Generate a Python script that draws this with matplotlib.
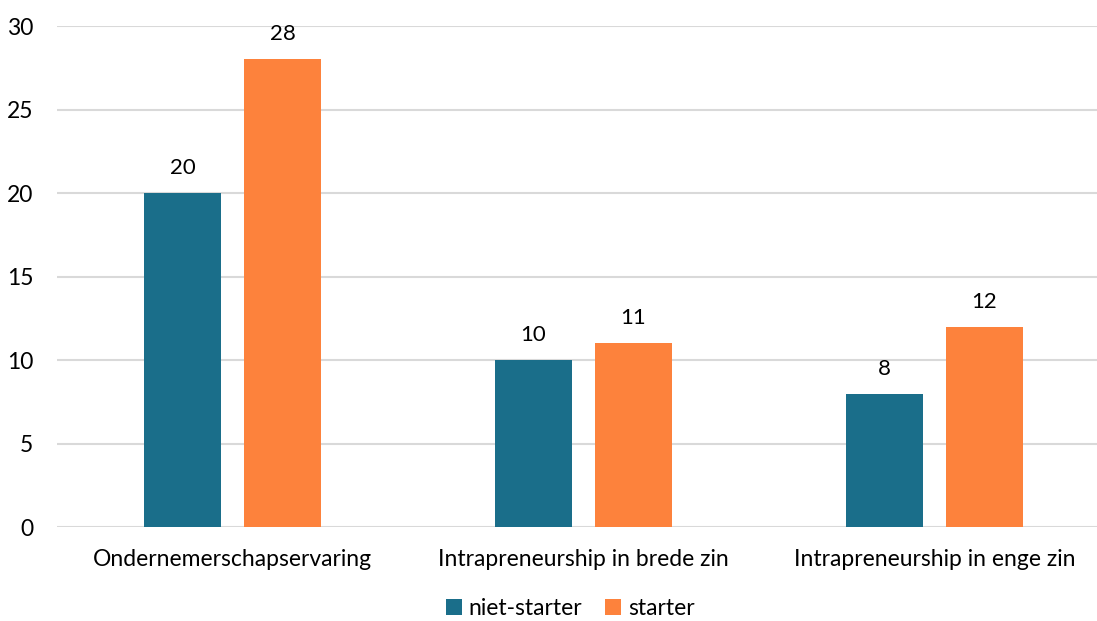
import matplotlib
matplotlib.use("Agg")
import matplotlib.pyplot as plt
import numpy as np

plt.rcParams['font.family'] = ['Lato', 'DejaVu Sans']

categories = ["Ondernemerschapservaring", "Intrapreneurship in brede zin", "Intrapreneurship in enge zin"]
niet_starter = [20, 10, 8]
starter = [28, 11, 12]
series_names = ["niet-starter", "starter"]
colors = ["#1a6e8a", "#fd823c"]

fig = plt.figure(figsize=(10.97, 6.21), dpi=100)
ax = fig.add_axes([57 / 1097, 0.151, 1053 / 1097, 0.807])

x = np.arange(len(categories))
w = 0.222
off = 0.1425
b1 = ax.bar(x - off, niet_starter, w, color=colors[0], label=series_names[0], zorder=3)
b2 = ax.bar(x + off, starter, w, color=colors[1], label=series_names[1], zorder=3)

for bars, vals in ((b1, niet_starter), (b2, starter)):
    for rect, v in zip(bars, vals):
        ax.text(rect.get_x() + rect.get_width() / 2, v + 0.9, str(v),
                ha='center', va='bottom', fontsize=16, color='black')

ax.set_xlim(-0.5, 2.5)
ax.set_ylim(0, 30)
ax.set_yticks(range(0, 31, 5))
ax.set_xticks(x)
ax.set_xticklabels(categories)
ax.tick_params(axis='both', length=0, labelsize=16.5, colors='black')
ax.tick_params(axis='x', pad=16)
ax.tick_params(axis='y', pad=17)
ax.grid(axis='y', color='#d9d9d9', linewidth=1.5, zorder=0)
for s in ax.spines.values():
    s.set_visible(False)

ax.legend(loc='upper center', bbox_to_anchor=(513 / 1053, -0.1), ncol=2, frameon=False,
          fontsize=16.5, handlelength=0.7, handleheight=0.7, handletextpad=0.3, columnspacing=1.0)

fig.savefig("out.png", dpi=100)
